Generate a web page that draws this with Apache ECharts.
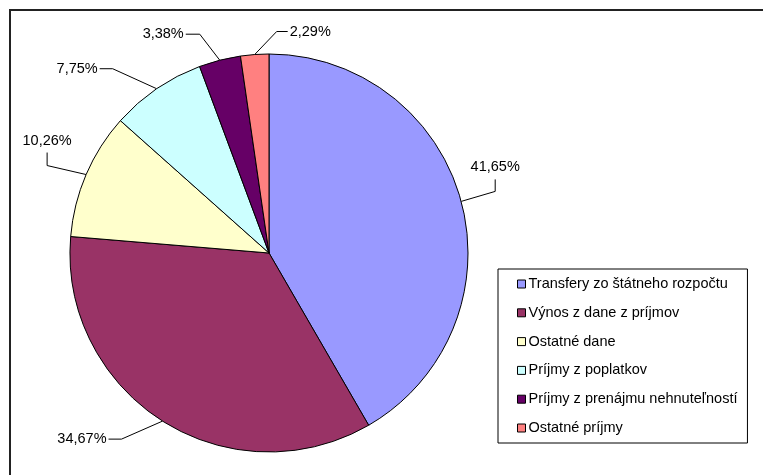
<!DOCTYPE html>
<html>
<head>
<meta charset="utf-8">
<script src="https://cdn.jsdelivr.net/npm/echarts@6/dist/echarts.min.js"></script>
<style>
html,body{margin:0;padding:0;background:#fff;}
#chart{width:763px;height:475px;}
</style>
</head>
<body>
<div id="chart"></div>
<script>
// Data
const categories = [
  'Transfery zo štátneho rozpočtu',
  'Výnos z dane z príjmov',
  'Ostatné dane',
  'Príjmy z poplatkov',
  'Príjmy z prenájmu nehnuteľností',
  'Ostatné príjmy'
];
const values = [41.65, 34.67, 10.26, 7.75, 3.38, 2.29];
const colors = ['#9999FF', '#993366', '#FFFFCC', '#CCFFFF', '#660066', '#FF8080'];

// Leader-line styling (offsets relative to the slice edge point computed by ECharts)
const leaderElbow = [[34, -10], [-41, 18], [-39, -9], [-44, -20], [-20, -26], [22, -23]];
const leaderEnd   = [[34, -22], [-54, 18], [-39, -22], [-57, -20], [-34, -26], [33, -23]];
const labelSide   = ['top', 'left', 'top', 'left', 'left', 'right'];

const FONT = 'Arial, "Liberation Sans", sans-serif';

const chart = echarts.init(document.getElementById('chart'), null, {renderer: 'canvas'});

chart.setOption({
  backgroundColor: '#ffffff',
  animation: false,
  color: colors,
  graphic: [{
    type: 'rect',
    shape: {x: 10, y: 10, width: 900, height: 900},
    style: {fill: 'none', stroke: '#222', lineWidth: 2},
    silent: true,
    z: -1
  }],
  legend: {
    orient: 'vertical',
    left: 498,
    top: 269,
    padding: [7, 10, 7, 19],
    borderColor: '#000',
    borderWidth: 1,
    itemWidth: 8,
    itemHeight: 8,
    itemGap: 12.8,
    icon: 'rect',
    itemStyle: {borderColor: '#000', borderWidth: 1},
    textStyle: {fontFamily: FONT, fontSize: 14.5, color: '#000', lineHeight: 16, padding: [0, 0, 0, -2]},
    data: categories
  },
  series: [{
    type: 'pie',
    center: [269, 253],
    radius: 199,
    startAngle: 90,
    clockwise: true,
    avoidLabelOverlap: false,
    itemStyle: {borderColor: '#000', borderWidth: 1},
    label: {
      show: true,
      position: 'outside',
      fontFamily: FONT,
      fontSize: 14.5,
      color: '#000',
      formatter: p => p.percent.toFixed(2).replace('.', ',') + '%'
    },
    labelLine: {show: true, length: 15, length2: 10, lineStyle: {color: '#000', width: 1}},
    labelLayout: function (params) {
      const i = params.dataIndex;
      const pts = params.labelLinePoints;
      if (!pts) return {};
      const p0 = pts[0];
      const e = [p0[0] + leaderElbow[i][0], p0[1] + leaderElbow[i][1]];
      const t = [p0[0] + leaderEnd[i][0], p0[1] + leaderEnd[i][1]];
      const side = labelSide[i];
      let res;
      if (side === 'top') {
        res = {x: t[0], y: t[1] - 12, align: 'center', verticalAlign: 'middle'};
      } else if (side === 'left') {
        res = {x: t[0] - 2, y: t[1], align: 'right', verticalAlign: 'middle'};
      } else {
        res = {x: t[0] + 2, y: t[1], align: 'left', verticalAlign: 'middle'};
      }
      res.labelLinePoints = [p0, e, t];
      return res;
    },
    data: categories.map((n, i) => ({name: n, value: values[i]}))
  }]
});
</script>
</body>
</html>
